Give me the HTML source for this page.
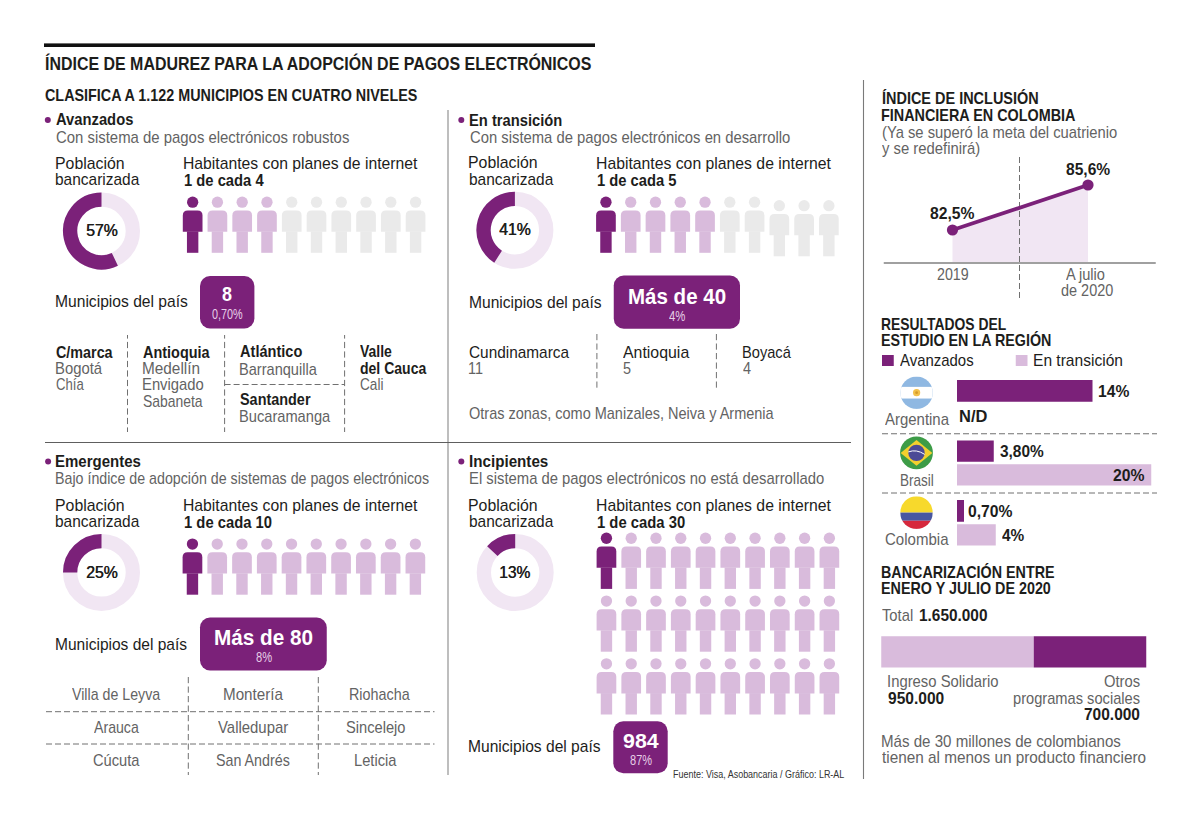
<!DOCTYPE html><html lang="es"><head><meta charset="utf-8"><title>Índice de madurez para la adopción de pagos electrónicos</title><style>
*{margin:0;padding:0;box-sizing:border-box}
html,body{width:1200px;height:822px;background:#fff;overflow:hidden}
body{position:relative;font-family:"Liberation Sans",Arial,sans-serif}
svg.bg{position:absolute;left:0;top:0}
.t{position:absolute;white-space:nowrap;line-height:1;transform-origin:0 0}
</style></head><body>
<svg class="bg" width="1200" height="822" viewBox="0 0 1200 822"><rect x="44.00" y="43.40" width="551.00" height="3.60" rx="0" fill="#111"/><line x1="448" y1="110" x2="448" y2="775" stroke="#b3b3b3" stroke-width="1.7"/><line x1="863.5" y1="80" x2="863.5" y2="779" stroke="#7a7a7a" stroke-width="1.1"/><line x1="45" y1="442.5" x2="851" y2="442.5" stroke="#5e5e5e" stroke-width="1"/><circle cx="47.8" cy="120" r="3" fill="#7b2179"/><circle cx="101.5" cy="231" r="31.35" fill="none" stroke="#f1e6f3" stroke-width="14.30"/><path d="M101.5 199.65A31.35 31.35 0 1 0 114.85 259.37" fill="none" stroke="#7b2179" stroke-width="14.30"/><circle cx="192.65" cy="202.15" r="5.65" fill="#7b2179"/><path d="M182.80 231.70V215.40Q182.80 210.40 187.80 210.40H197.50Q202.50 210.40 202.50 215.40V231.70Z" fill="#7b2179"/><rect x="186.95" y="231.40" width="11.4" height="21.40" fill="#7b2179"/><circle cx="217.42" cy="202.15" r="5.65" fill="#d9bbdc"/><path d="M207.57 231.70V215.40Q207.57 210.40 212.57 210.40H222.27Q227.27 210.40 227.27 215.40V231.70Z" fill="#d9bbdc"/><rect x="211.72" y="231.40" width="11.4" height="21.40" fill="#d9bbdc"/><circle cx="242.19" cy="202.15" r="5.65" fill="#d9bbdc"/><path d="M232.34 231.70V215.40Q232.34 210.40 237.34 210.40H247.04Q252.04 210.40 252.04 215.40V231.70Z" fill="#d9bbdc"/><rect x="236.49" y="231.40" width="11.4" height="21.40" fill="#d9bbdc"/><circle cx="266.96" cy="202.15" r="5.65" fill="#d9bbdc"/><path d="M257.11 231.70V215.40Q257.11 210.40 262.11 210.40H271.81Q276.81 210.40 276.81 215.40V231.70Z" fill="#d9bbdc"/><rect x="261.26" y="231.40" width="11.4" height="21.40" fill="#d9bbdc"/><circle cx="291.73" cy="202.15" r="5.65" fill="#eaeaea"/><path d="M281.88 231.70V215.40Q281.88 210.40 286.88 210.40H296.58Q301.58 210.40 301.58 215.40V231.70Z" fill="#eaeaea"/><rect x="286.03" y="231.40" width="11.4" height="21.40" fill="#eaeaea"/><circle cx="316.50" cy="202.15" r="5.65" fill="#eaeaea"/><path d="M306.65 231.70V215.40Q306.65 210.40 311.65 210.40H321.35Q326.35 210.40 326.35 215.40V231.70Z" fill="#eaeaea"/><rect x="310.80" y="231.40" width="11.4" height="21.40" fill="#eaeaea"/><circle cx="341.27" cy="202.15" r="5.65" fill="#eaeaea"/><path d="M331.42 231.70V215.40Q331.42 210.40 336.42 210.40H346.12Q351.12 210.40 351.12 215.40V231.70Z" fill="#eaeaea"/><rect x="335.57" y="231.40" width="11.4" height="21.40" fill="#eaeaea"/><circle cx="366.04" cy="202.15" r="5.65" fill="#eaeaea"/><path d="M356.19 231.70V215.40Q356.19 210.40 361.19 210.40H370.89Q375.89 210.40 375.89 215.40V231.70Z" fill="#eaeaea"/><rect x="360.34" y="231.40" width="11.4" height="21.40" fill="#eaeaea"/><circle cx="390.81" cy="202.15" r="5.65" fill="#eaeaea"/><path d="M380.96 231.70V215.40Q380.96 210.40 385.96 210.40H395.66Q400.66 210.40 400.66 215.40V231.70Z" fill="#eaeaea"/><rect x="385.11" y="231.40" width="11.4" height="21.40" fill="#eaeaea"/><circle cx="415.58" cy="202.15" r="5.65" fill="#eaeaea"/><path d="M405.73 231.70V215.40Q405.73 210.40 410.73 210.40H420.43Q425.43 210.40 425.43 215.40V231.70Z" fill="#eaeaea"/><rect x="409.88" y="231.40" width="11.4" height="21.40" fill="#eaeaea"/><rect x="200.00" y="276.00" width="54.40" height="52.40" rx="10" fill="#7b2179"/><line x1="127.5" y1="335" x2="127.5" y2="432" stroke="#707070" stroke-width="1" stroke-dasharray="6.2 3.3" stroke-dashoffset="2.6"/><line x1="224.6" y1="335" x2="224.6" y2="432" stroke="#707070" stroke-width="1" stroke-dasharray="6.2 3.3" stroke-dashoffset="2.6"/><line x1="344.6" y1="335" x2="344.6" y2="432" stroke="#707070" stroke-width="1" stroke-dasharray="6.2 3.3" stroke-dashoffset="2.6"/><line x1="224.6" y1="384.5" x2="344.6" y2="384.5" stroke="#707070" stroke-width="1" stroke-dasharray="6 3"/><circle cx="461.3" cy="120" r="3" fill="#7b2179"/><circle cx="514.9" cy="230.2" r="31.35" fill="none" stroke="#f1e6f3" stroke-width="14.30"/><path d="M514.9 198.85A31.35 31.35 0 0 0 498.10 256.67" fill="none" stroke="#7b2179" stroke-width="14.30"/><circle cx="605.95" cy="202.15" r="5.65" fill="#7b2179"/><path d="M596.10 231.70V215.40Q596.10 210.40 601.10 210.40H610.80Q615.80 210.40 615.80 215.40V231.70Z" fill="#7b2179"/><rect x="600.25" y="231.40" width="11.4" height="21.40" fill="#7b2179"/><circle cx="630.72" cy="202.15" r="5.65" fill="#d9bbdc"/><path d="M620.87 231.70V215.40Q620.87 210.40 625.87 210.40H635.57Q640.57 210.40 640.57 215.40V231.70Z" fill="#d9bbdc"/><rect x="625.02" y="231.40" width="11.4" height="21.40" fill="#d9bbdc"/><circle cx="655.49" cy="202.15" r="5.65" fill="#d9bbdc"/><path d="M645.64 231.70V215.40Q645.64 210.40 650.64 210.40H660.34Q665.34 210.40 665.34 215.40V231.70Z" fill="#d9bbdc"/><rect x="649.79" y="231.40" width="11.4" height="21.40" fill="#d9bbdc"/><circle cx="680.26" cy="202.15" r="5.65" fill="#d9bbdc"/><path d="M670.41 231.70V215.40Q670.41 210.40 675.41 210.40H685.11Q690.11 210.40 690.11 215.40V231.70Z" fill="#d9bbdc"/><rect x="674.56" y="231.40" width="11.4" height="21.40" fill="#d9bbdc"/><circle cx="705.03" cy="202.15" r="5.65" fill="#d9bbdc"/><path d="M695.18 231.70V215.40Q695.18 210.40 700.18 210.40H709.88Q714.88 210.40 714.88 215.40V231.70Z" fill="#d9bbdc"/><rect x="699.33" y="231.40" width="11.4" height="21.40" fill="#d9bbdc"/><circle cx="729.80" cy="202.15" r="5.65" fill="#eaeaea"/><path d="M719.95 231.70V215.40Q719.95 210.40 724.95 210.40H734.65Q739.65 210.40 739.65 215.40V231.70Z" fill="#eaeaea"/><rect x="724.10" y="231.40" width="11.4" height="21.40" fill="#eaeaea"/><circle cx="754.57" cy="202.15" r="5.65" fill="#eaeaea"/><path d="M744.72 231.70V215.40Q744.72 210.40 749.72 210.40H759.42Q764.42 210.40 764.42 215.40V231.70Z" fill="#eaeaea"/><rect x="748.87" y="231.40" width="11.4" height="21.40" fill="#eaeaea"/><circle cx="779.34" cy="205.65" r="5.65" fill="#eaeaea"/><path d="M769.49 235.20V218.90Q769.49 213.90 774.49 213.90H784.19Q789.19 213.90 789.19 218.90V235.20Z" fill="#eaeaea"/><rect x="773.64" y="234.90" width="11.4" height="21.40" fill="#eaeaea"/><circle cx="804.11" cy="205.65" r="5.65" fill="#eaeaea"/><path d="M794.26 235.20V218.90Q794.26 213.90 799.26 213.90H808.96Q813.96 213.90 813.96 218.90V235.20Z" fill="#eaeaea"/><rect x="798.41" y="234.90" width="11.4" height="21.40" fill="#eaeaea"/><circle cx="828.88" cy="205.65" r="5.65" fill="#eaeaea"/><path d="M819.03 235.20V218.90Q819.03 213.90 824.03 213.90H833.73Q838.73 213.90 838.73 218.90V235.20Z" fill="#eaeaea"/><rect x="823.18" y="234.90" width="11.4" height="21.40" fill="#eaeaea"/><rect x="613.75" y="275.50" width="126.25" height="53.25" rx="10" fill="#7b2179"/><line x1="596.9" y1="334" x2="596.9" y2="390" stroke="#707070" stroke-width="1" stroke-dasharray="6.2 3.3" stroke-dashoffset="0"/><line x1="716.4" y1="334" x2="716.4" y2="390" stroke="#707070" stroke-width="1" stroke-dasharray="6.2 3.3" stroke-dashoffset="0"/><circle cx="48.1" cy="461.6" r="3" fill="#7b2179"/><circle cx="101.5" cy="572.4" r="31.35" fill="none" stroke="#f1e6f3" stroke-width="14.30"/><path d="M101.5 541.05A31.35 31.35 0 0 0 70.15 572.40" fill="none" stroke="#7b2179" stroke-width="14.30"/><circle cx="192.45" cy="544.05" r="5.65" fill="#7b2179"/><path d="M182.60 573.60V557.30Q182.60 552.30 187.60 552.30H197.30Q202.30 552.30 202.30 557.30V573.60Z" fill="#7b2179"/><rect x="186.75" y="573.30" width="11.4" height="21.40" fill="#7b2179"/><circle cx="217.22" cy="544.05" r="5.65" fill="#d9bbdc"/><path d="M207.37 573.60V557.30Q207.37 552.30 212.37 552.30H222.07Q227.07 552.30 227.07 557.30V573.60Z" fill="#d9bbdc"/><rect x="211.52" y="573.30" width="11.4" height="21.40" fill="#d9bbdc"/><circle cx="241.99" cy="544.05" r="5.65" fill="#d9bbdc"/><path d="M232.14 573.60V557.30Q232.14 552.30 237.14 552.30H246.84Q251.84 552.30 251.84 557.30V573.60Z" fill="#d9bbdc"/><rect x="236.29" y="573.30" width="11.4" height="21.40" fill="#d9bbdc"/><circle cx="266.76" cy="544.05" r="5.65" fill="#d9bbdc"/><path d="M256.91 573.60V557.30Q256.91 552.30 261.91 552.30H271.61Q276.61 552.30 276.61 557.30V573.60Z" fill="#d9bbdc"/><rect x="261.06" y="573.30" width="11.4" height="21.40" fill="#d9bbdc"/><circle cx="291.53" cy="544.05" r="5.65" fill="#d9bbdc"/><path d="M281.68 573.60V557.30Q281.68 552.30 286.68 552.30H296.38Q301.38 552.30 301.38 557.30V573.60Z" fill="#d9bbdc"/><rect x="285.83" y="573.30" width="11.4" height="21.40" fill="#d9bbdc"/><circle cx="316.30" cy="544.05" r="5.65" fill="#d9bbdc"/><path d="M306.45 573.60V557.30Q306.45 552.30 311.45 552.30H321.15Q326.15 552.30 326.15 557.30V573.60Z" fill="#d9bbdc"/><rect x="310.60" y="573.30" width="11.4" height="21.40" fill="#d9bbdc"/><circle cx="341.07" cy="544.05" r="5.65" fill="#d9bbdc"/><path d="M331.22 573.60V557.30Q331.22 552.30 336.22 552.30H345.92Q350.92 552.30 350.92 557.30V573.60Z" fill="#d9bbdc"/><rect x="335.37" y="573.30" width="11.4" height="21.40" fill="#d9bbdc"/><circle cx="365.84" cy="544.05" r="5.65" fill="#d9bbdc"/><path d="M355.99 573.60V557.30Q355.99 552.30 360.99 552.30H370.69Q375.69 552.30 375.69 557.30V573.60Z" fill="#d9bbdc"/><rect x="360.14" y="573.30" width="11.4" height="21.40" fill="#d9bbdc"/><circle cx="390.61" cy="544.05" r="5.65" fill="#d9bbdc"/><path d="M380.76 573.60V557.30Q380.76 552.30 385.76 552.30H395.46Q400.46 552.30 400.46 557.30V573.60Z" fill="#d9bbdc"/><rect x="384.91" y="573.30" width="11.4" height="21.40" fill="#d9bbdc"/><circle cx="415.38" cy="544.05" r="5.65" fill="#d9bbdc"/><path d="M405.53 573.60V557.30Q405.53 552.30 410.53 552.30H420.23Q425.23 552.30 425.23 557.30V573.60Z" fill="#d9bbdc"/><rect x="409.68" y="573.30" width="11.4" height="21.40" fill="#d9bbdc"/><rect x="200.00" y="617.50" width="126.75" height="53.00" rx="10" fill="#7b2179"/><line x1="188.3" y1="677" x2="188.3" y2="775" stroke="#707070" stroke-width="1" stroke-dasharray="6.2 3.3" stroke-dashoffset="0"/><line x1="318.3" y1="677" x2="318.3" y2="775" stroke="#707070" stroke-width="1" stroke-dasharray="6.2 3.3" stroke-dashoffset="0"/><line x1="46" y1="711.7" x2="434.5" y2="711.7" stroke="#707070" stroke-width="1" stroke-dasharray="6 3"/><line x1="46" y1="744" x2="434.5" y2="744" stroke="#707070" stroke-width="1" stroke-dasharray="6 3"/><circle cx="461.3" cy="461.6" r="3" fill="#7b2179"/><circle cx="515.2" cy="572.5" r="31.35" fill="none" stroke="#f1e6f3" stroke-width="14.30"/><path d="M515.2 541.15A31.35 31.35 0 0 0 492.35 551.04" fill="none" stroke="#7b2179" stroke-width="14.30"/><circle cx="606.45" cy="538.25" r="5.65" fill="#7b2179"/><path d="M596.60 567.80V551.50Q596.60 546.50 601.60 546.50H611.30Q616.30 546.50 616.30 551.50V567.80Z" fill="#7b2179"/><rect x="600.75" y="567.50" width="11.4" height="21.40" fill="#7b2179"/><circle cx="631.22" cy="538.25" r="5.65" fill="#d9bbdc"/><path d="M621.37 567.80V551.50Q621.37 546.50 626.37 546.50H636.07Q641.07 546.50 641.07 551.50V567.80Z" fill="#d9bbdc"/><rect x="625.52" y="567.50" width="11.4" height="21.40" fill="#d9bbdc"/><circle cx="655.99" cy="538.25" r="5.65" fill="#d9bbdc"/><path d="M646.14 567.80V551.50Q646.14 546.50 651.14 546.50H660.84Q665.84 546.50 665.84 551.50V567.80Z" fill="#d9bbdc"/><rect x="650.29" y="567.50" width="11.4" height="21.40" fill="#d9bbdc"/><circle cx="680.76" cy="538.25" r="5.65" fill="#d9bbdc"/><path d="M670.91 567.80V551.50Q670.91 546.50 675.91 546.50H685.61Q690.61 546.50 690.61 551.50V567.80Z" fill="#d9bbdc"/><rect x="675.06" y="567.50" width="11.4" height="21.40" fill="#d9bbdc"/><circle cx="705.53" cy="538.25" r="5.65" fill="#d9bbdc"/><path d="M695.68 567.80V551.50Q695.68 546.50 700.68 546.50H710.38Q715.38 546.50 715.38 551.50V567.80Z" fill="#d9bbdc"/><rect x="699.83" y="567.50" width="11.4" height="21.40" fill="#d9bbdc"/><circle cx="730.30" cy="538.25" r="5.65" fill="#d9bbdc"/><path d="M720.45 567.80V551.50Q720.45 546.50 725.45 546.50H735.15Q740.15 546.50 740.15 551.50V567.80Z" fill="#d9bbdc"/><rect x="724.60" y="567.50" width="11.4" height="21.40" fill="#d9bbdc"/><circle cx="755.07" cy="538.25" r="5.65" fill="#d9bbdc"/><path d="M745.22 567.80V551.50Q745.22 546.50 750.22 546.50H759.92Q764.92 546.50 764.92 551.50V567.80Z" fill="#d9bbdc"/><rect x="749.37" y="567.50" width="11.4" height="21.40" fill="#d9bbdc"/><circle cx="779.84" cy="538.25" r="5.65" fill="#d9bbdc"/><path d="M769.99 567.80V551.50Q769.99 546.50 774.99 546.50H784.69Q789.69 546.50 789.69 551.50V567.80Z" fill="#d9bbdc"/><rect x="774.14" y="567.50" width="11.4" height="21.40" fill="#d9bbdc"/><circle cx="804.61" cy="538.25" r="5.65" fill="#d9bbdc"/><path d="M794.76 567.80V551.50Q794.76 546.50 799.76 546.50H809.46Q814.46 546.50 814.46 551.50V567.80Z" fill="#d9bbdc"/><rect x="798.91" y="567.50" width="11.4" height="21.40" fill="#d9bbdc"/><circle cx="829.38" cy="538.25" r="5.65" fill="#d9bbdc"/><path d="M819.53 567.80V551.50Q819.53 546.50 824.53 546.50H834.23Q839.23 546.50 839.23 551.50V567.80Z" fill="#d9bbdc"/><rect x="823.68" y="567.50" width="11.4" height="21.40" fill="#d9bbdc"/><circle cx="606.45" cy="601.05" r="5.65" fill="#d9bbdc"/><path d="M596.60 630.60V614.30Q596.60 609.30 601.60 609.30H611.30Q616.30 609.30 616.30 614.30V630.60Z" fill="#d9bbdc"/><rect x="600.75" y="630.30" width="11.4" height="21.40" fill="#d9bbdc"/><circle cx="631.22" cy="601.05" r="5.65" fill="#d9bbdc"/><path d="M621.37 630.60V614.30Q621.37 609.30 626.37 609.30H636.07Q641.07 609.30 641.07 614.30V630.60Z" fill="#d9bbdc"/><rect x="625.52" y="630.30" width="11.4" height="21.40" fill="#d9bbdc"/><circle cx="655.99" cy="601.05" r="5.65" fill="#d9bbdc"/><path d="M646.14 630.60V614.30Q646.14 609.30 651.14 609.30H660.84Q665.84 609.30 665.84 614.30V630.60Z" fill="#d9bbdc"/><rect x="650.29" y="630.30" width="11.4" height="21.40" fill="#d9bbdc"/><circle cx="680.76" cy="601.05" r="5.65" fill="#d9bbdc"/><path d="M670.91 630.60V614.30Q670.91 609.30 675.91 609.30H685.61Q690.61 609.30 690.61 614.30V630.60Z" fill="#d9bbdc"/><rect x="675.06" y="630.30" width="11.4" height="21.40" fill="#d9bbdc"/><circle cx="705.53" cy="601.05" r="5.65" fill="#d9bbdc"/><path d="M695.68 630.60V614.30Q695.68 609.30 700.68 609.30H710.38Q715.38 609.30 715.38 614.30V630.60Z" fill="#d9bbdc"/><rect x="699.83" y="630.30" width="11.4" height="21.40" fill="#d9bbdc"/><circle cx="730.30" cy="601.05" r="5.65" fill="#d9bbdc"/><path d="M720.45 630.60V614.30Q720.45 609.30 725.45 609.30H735.15Q740.15 609.30 740.15 614.30V630.60Z" fill="#d9bbdc"/><rect x="724.60" y="630.30" width="11.4" height="21.40" fill="#d9bbdc"/><circle cx="755.07" cy="601.05" r="5.65" fill="#d9bbdc"/><path d="M745.22 630.60V614.30Q745.22 609.30 750.22 609.30H759.92Q764.92 609.30 764.92 614.30V630.60Z" fill="#d9bbdc"/><rect x="749.37" y="630.30" width="11.4" height="21.40" fill="#d9bbdc"/><circle cx="779.84" cy="601.05" r="5.65" fill="#d9bbdc"/><path d="M769.99 630.60V614.30Q769.99 609.30 774.99 609.30H784.69Q789.69 609.30 789.69 614.30V630.60Z" fill="#d9bbdc"/><rect x="774.14" y="630.30" width="11.4" height="21.40" fill="#d9bbdc"/><circle cx="804.61" cy="601.05" r="5.65" fill="#d9bbdc"/><path d="M794.76 630.60V614.30Q794.76 609.30 799.76 609.30H809.46Q814.46 609.30 814.46 614.30V630.60Z" fill="#d9bbdc"/><rect x="798.91" y="630.30" width="11.4" height="21.40" fill="#d9bbdc"/><circle cx="829.38" cy="601.05" r="5.65" fill="#d9bbdc"/><path d="M819.53 630.60V614.30Q819.53 609.30 824.53 609.30H834.23Q839.23 609.30 839.23 614.30V630.60Z" fill="#d9bbdc"/><rect x="823.68" y="630.30" width="11.4" height="21.40" fill="#d9bbdc"/><circle cx="606.45" cy="663.85" r="5.65" fill="#d9bbdc"/><path d="M596.60 693.40V677.10Q596.60 672.10 601.60 672.10H611.30Q616.30 672.10 616.30 677.10V693.40Z" fill="#d9bbdc"/><rect x="600.75" y="693.10" width="11.4" height="21.40" fill="#d9bbdc"/><circle cx="631.22" cy="663.85" r="5.65" fill="#d9bbdc"/><path d="M621.37 693.40V677.10Q621.37 672.10 626.37 672.10H636.07Q641.07 672.10 641.07 677.10V693.40Z" fill="#d9bbdc"/><rect x="625.52" y="693.10" width="11.4" height="21.40" fill="#d9bbdc"/><circle cx="655.99" cy="663.85" r="5.65" fill="#d9bbdc"/><path d="M646.14 693.40V677.10Q646.14 672.10 651.14 672.10H660.84Q665.84 672.10 665.84 677.10V693.40Z" fill="#d9bbdc"/><rect x="650.29" y="693.10" width="11.4" height="21.40" fill="#d9bbdc"/><circle cx="680.76" cy="663.85" r="5.65" fill="#d9bbdc"/><path d="M670.91 693.40V677.10Q670.91 672.10 675.91 672.10H685.61Q690.61 672.10 690.61 677.10V693.40Z" fill="#d9bbdc"/><rect x="675.06" y="693.10" width="11.4" height="21.40" fill="#d9bbdc"/><circle cx="705.53" cy="663.85" r="5.65" fill="#d9bbdc"/><path d="M695.68 693.40V677.10Q695.68 672.10 700.68 672.10H710.38Q715.38 672.10 715.38 677.10V693.40Z" fill="#d9bbdc"/><rect x="699.83" y="693.10" width="11.4" height="21.40" fill="#d9bbdc"/><circle cx="730.30" cy="663.85" r="5.65" fill="#d9bbdc"/><path d="M720.45 693.40V677.10Q720.45 672.10 725.45 672.10H735.15Q740.15 672.10 740.15 677.10V693.40Z" fill="#d9bbdc"/><rect x="724.60" y="693.10" width="11.4" height="21.40" fill="#d9bbdc"/><circle cx="755.07" cy="663.85" r="5.65" fill="#d9bbdc"/><path d="M745.22 693.40V677.10Q745.22 672.10 750.22 672.10H759.92Q764.92 672.10 764.92 677.10V693.40Z" fill="#d9bbdc"/><rect x="749.37" y="693.10" width="11.4" height="21.40" fill="#d9bbdc"/><circle cx="779.84" cy="663.85" r="5.65" fill="#d9bbdc"/><path d="M769.99 693.40V677.10Q769.99 672.10 774.99 672.10H784.69Q789.69 672.10 789.69 677.10V693.40Z" fill="#d9bbdc"/><rect x="774.14" y="693.10" width="11.4" height="21.40" fill="#d9bbdc"/><circle cx="804.61" cy="663.85" r="5.65" fill="#d9bbdc"/><path d="M794.76 693.40V677.10Q794.76 672.10 799.76 672.10H809.46Q814.46 672.10 814.46 677.10V693.40Z" fill="#d9bbdc"/><rect x="798.91" y="693.10" width="11.4" height="21.40" fill="#d9bbdc"/><circle cx="829.38" cy="663.85" r="5.65" fill="#d9bbdc"/><path d="M819.53 693.40V677.10Q819.53 672.10 824.53 672.10H834.23Q839.23 672.10 839.23 677.10V693.40Z" fill="#d9bbdc"/><rect x="823.68" y="693.10" width="11.4" height="21.40" fill="#d9bbdc"/><rect x="613.30" y="721.20" width="54.40" height="52.00" rx="10" fill="#7b2179"/><polygon points="952.5,230 1088,185 1088,263 952.5,263" fill="#f1e6f3"/><line x1="883.75" y1="263" x2="1155.75" y2="263" stroke="#a0a0a0" stroke-width="1.8"/><line x1="1019.5" y1="157" x2="1019.5" y2="301" stroke="#707070" stroke-width="1" stroke-dasharray="6 3" stroke-dashoffset="0"/><line x1="952.5" y1="230" x2="1088" y2="185" stroke="#7b2179" stroke-width="3.8"/><circle cx="952.5" cy="230" r="5.6" fill="#7b2179"/><circle cx="1088" cy="185" r="5.6" fill="#7b2179"/><rect x="882.00" y="355.00" width="11.75" height="11.00" rx="0" fill="#7b2179"/><rect x="1015.75" y="355.00" width="11.75" height="11.00" rx="0" fill="#d9bbdc"/><clipPath id="cfa"><circle cx="916.6" cy="392.7" r="16.2"/></clipPath><g clip-path="url(#cfa)"><rect x="900.4" y="376.5" width="32.4" height="32.4" fill="#8fb8e2"/><rect x="900.4" y="386.868" width="32.4" height="11.664" fill="#fff"/></g><circle cx="916.6" cy="392.7" r="3.6" fill="#f2c04a"/><circle cx="916.6" cy="392.7" r="1.4" fill="#d49a2a"/><circle cx="916.5" cy="452.9" r="16.4" fill="#3d9c47"/><polygon points="900.6,452.9 916.5,440.108 932.4,452.9 916.5,465.69199999999995" fill="#f3d02e"/><circle cx="916.5" cy="452.9" r="8.2" fill="#4b4a96"/><path d="M908.3 451.9Q916.5 448.9 924.7 454.4" stroke="#fff" stroke-width="1" fill="none"/><clipPath id="cfc"><circle cx="916.5" cy="512.6" r="16.3"/></clipPath><g clip-path="url(#cfc)"><rect x="900.2" y="496.3" width="32.6" height="16.3" fill="#f7d92c"/><rect x="900.2" y="512.6" width="32.6" height="8.15" fill="#4857a0"/><rect x="900.2" y="520.75" width="32.6" height="8.15" fill="#d6283c"/></g><rect x="957.00" y="380.00" width="135.50" height="21.75" rx="0" fill="#7b2179"/><line x1="882" y1="433.75" x2="1157" y2="433.75" stroke="#707070" stroke-width="1" stroke-dasharray="6 3"/><rect x="957.00" y="440.50" width="36.75" height="21.25" rx="0" fill="#7b2179"/><rect x="957.00" y="464.25" width="194.25" height="21.25" rx="0" fill="#d9bbdc"/><line x1="882" y1="493" x2="1157" y2="493" stroke="#707070" stroke-width="1" stroke-dasharray="6 3"/><rect x="957.00" y="500.00" width="7.00" height="21.75" rx="0" fill="#7b2179"/><rect x="957.00" y="524.25" width="38.75" height="21.25" rx="0" fill="#d9bbdc"/><rect x="881.25" y="636.25" width="152.50" height="31.25" rx="0" fill="#d9bbdc"/><rect x="1033.75" y="636.25" width="112.50" height="31.25" rx="0" fill="#7b2179"/></svg>
<div class="t" style="left:44.50px;top:55.00px;font-size:18.2px;font-weight:700;color:#1d1d1b;transform:scaleX(0.8773)">ÍNDICE DE MADUREZ PARA LA ADOPCIÓN DE PAGOS ELECTRÓNICOS</div>
<div class="t" style="left:44.50px;top:87.50px;font-size:15.7px;font-weight:700;color:#1d1d1b;transform:scaleX(0.9153)">CLASIFICA A 1.122 MUNICIPIOS EN CUATRO NIVELES</div>
<div class="t" style="left:56.00px;top:112.00px;font-size:15.7px;font-weight:700;color:#1d1d1b;transform:scaleX(0.9405)">Avanzados</div>
<div class="t" style="left:56.00px;top:130.00px;font-size:15.7px;font-weight:400;color:#636363;transform:scaleX(0.9503)">Con sistema de pagos electrónicos robustos</div>
<div class="t" style="left:54.99px;top:156.00px;font-size:15.7px;font-weight:400;color:#1d1d1b;transform:scaleX(1.0108)">Población</div>
<div class="t" style="left:55.01px;top:172.20px;font-size:15.7px;font-weight:400;color:#1d1d1b;transform:scaleX(0.9865)">bancarizada</div>
<div class="t" style="left:182.50px;top:156.30px;font-size:15.7px;font-weight:400;color:#1d1d1b;transform:scaleX(1.0027)">Habitantes con planes de internet</div>
<div class="t" style="left:183.50px;top:172.70px;font-size:15.7px;font-weight:700;color:#1d1d1b;transform:scaleX(0.9415)">1 de cada 4</div>
<div class="t" style="left:85.90px;top:221.60px;font-size:16.3px;font-weight:400;color:#1d1d1b;transform:scaleX(0.9717);text-shadow:0.45px 0 0 #1d1d1b">57%</div>
<div class="t" style="left:55.00px;top:294.00px;font-size:15.7px;font-weight:400;color:#1d1d1b;transform:scaleX(0.9957)">Municipios del país</div>
<div class="t" style="left:221.94px;top:285.00px;font-size:19.5px;font-weight:700;color:#fff;transform:scaleX(0.9200)">8</div>
<div class="t" style="left:211.60px;top:306.60px;font-size:14px;font-weight:400;color:#e6cfe7;transform:scaleX(0.7746)">0,70%</div>
<div class="t" style="left:55.75px;top:344.50px;font-size:15.7px;font-weight:700;color:#1d1d1b;transform:scaleX(0.9141)">C/marca</div>
<div class="t" style="left:54.80px;top:360.75px;font-size:15.7px;font-weight:400;color:#636363;transform:scaleX(0.9460)">Bogotá</div>
<div class="t" style="left:55.75px;top:377.40px;font-size:15.7px;font-weight:400;color:#636363;transform:scaleX(0.8380)">Chía</div>
<div class="t" style="left:142.90px;top:344.50px;font-size:15.7px;font-weight:700;color:#1d1d1b;transform:scaleX(0.9208)">Antioquia</div>
<div class="t" style="left:141.92px;top:360.75px;font-size:15.7px;font-weight:400;color:#636363;transform:scaleX(0.9788)">Medellín</div>
<div class="t" style="left:141.96px;top:377.40px;font-size:15.7px;font-weight:400;color:#636363;transform:scaleX(0.9445)">Envigado</div>
<div class="t" style="left:142.90px;top:394.00px;font-size:15.7px;font-weight:400;color:#636363;transform:scaleX(0.8874)">Sabaneta</div>
<div class="t" style="left:239.70px;top:344.40px;font-size:15.7px;font-weight:700;color:#1d1d1b;transform:scaleX(0.9290)">Atlántico</div>
<div class="t" style="left:238.77px;top:361.50px;font-size:15.7px;font-weight:400;color:#636363;transform:scaleX(0.9290)">Barranquilla</div>
<div class="t" style="left:239.70px;top:392.10px;font-size:15.7px;font-weight:700;color:#1d1d1b;transform:scaleX(0.9190)">Santander</div>
<div class="t" style="left:238.77px;top:409.00px;font-size:15.7px;font-weight:400;color:#636363;transform:scaleX(0.9335)">Bucaramanga</div>
<div class="t" style="left:359.50px;top:344.40px;font-size:15.7px;font-weight:700;color:#1d1d1b;transform:scaleX(0.8907)">Valle</div>
<div class="t" style="left:359.50px;top:361.00px;font-size:15.7px;font-weight:700;color:#1d1d1b;transform:scaleX(0.8940)">del Cauca</div>
<div class="t" style="left:359.50px;top:377.40px;font-size:15.7px;font-weight:400;color:#636363;transform:scaleX(0.8667)">Cali</div>
<div class="t" style="left:468.56px;top:112.80px;font-size:15.7px;font-weight:700;color:#1d1d1b;transform:scaleX(0.9388)">En transición</div>
<div class="t" style="left:469.50px;top:129.50px;font-size:15.7px;font-weight:400;color:#636363;transform:scaleX(0.9441)">Con sistema de pagos electrónicos en desarrollo</div>
<div class="t" style="left:468.49px;top:155.30px;font-size:15.7px;font-weight:400;color:#1d1d1b;transform:scaleX(1.0108)">Población</div>
<div class="t" style="left:468.51px;top:172.00px;font-size:15.7px;font-weight:400;color:#1d1d1b;transform:scaleX(0.9865)">bancarizada</div>
<div class="t" style="left:595.50px;top:156.00px;font-size:15.7px;font-weight:400;color:#1d1d1b;transform:scaleX(1.0048)">Habitantes con planes de internet</div>
<div class="t" style="left:596.50px;top:172.50px;font-size:15.7px;font-weight:700;color:#1d1d1b;transform:scaleX(0.9403)">1 de cada 5</div>
<div class="t" style="left:499.30px;top:221.30px;font-size:16.3px;font-weight:400;color:#1d1d1b;transform:scaleX(0.9717);text-shadow:0.45px 0 0 #1d1d1b">41%</div>
<div class="t" style="left:468.51px;top:294.50px;font-size:15.7px;font-weight:400;color:#1d1d1b;transform:scaleX(0.9938)">Municipios del país</div>
<div class="t" style="left:627.86px;top:285.60px;font-size:21.8px;font-weight:700;color:#fff;transform:scaleX(0.9411)">Más de 40</div>
<div class="t" style="left:669.00px;top:308.60px;font-size:14px;font-weight:400;color:#e6cfe7;transform:scaleX(0.8086)">4%</div>
<div class="t" style="left:469.40px;top:344.80px;font-size:15.7px;font-weight:400;color:#1d1d1b;transform:scaleX(0.9805)">Cundinamarca</div>
<div class="t" style="left:468.48px;top:360.90px;font-size:15.7px;font-weight:400;color:#636363;transform:scaleX(0.9200)">11</div>
<div class="t" style="left:623.00px;top:344.80px;font-size:15.7px;font-weight:400;color:#1d1d1b;transform:scaleX(1.0123)">Antioquia</div>
<div class="t" style="left:623.00px;top:360.90px;font-size:15.7px;font-weight:400;color:#636363;transform:scaleX(0.9200)">5</div>
<div class="t" style="left:741.77px;top:344.50px;font-size:15.7px;font-weight:400;color:#1d1d1b;transform:scaleX(0.9322)">Boyacá</div>
<div class="t" style="left:742.80px;top:360.90px;font-size:15.7px;font-weight:400;color:#636363;transform:scaleX(0.9200)">4</div>
<div class="t" style="left:469.40px;top:406.30px;font-size:15.7px;font-weight:400;color:#636363;transform:scaleX(0.9244)">Otras zonas, como Manizales, Neiva y Armenia</div>
<div class="t" style="left:55.04px;top:454.40px;font-size:15.7px;font-weight:700;color:#1d1d1b;transform:scaleX(0.9564)">Emergentes</div>
<div class="t" style="left:55.09px;top:471.40px;font-size:15.7px;font-weight:400;color:#636363;transform:scaleX(0.9068)">Bajo índice de adopción de sistemas de pagos electrónicos</div>
<div class="t" style="left:54.99px;top:497.60px;font-size:15.7px;font-weight:400;color:#1d1d1b;transform:scaleX(1.0108)">Población</div>
<div class="t" style="left:55.01px;top:514.00px;font-size:15.7px;font-weight:400;color:#1d1d1b;transform:scaleX(0.9865)">bancarizada</div>
<div class="t" style="left:182.50px;top:497.60px;font-size:15.7px;font-weight:400;color:#1d1d1b;transform:scaleX(1.0027)">Habitantes con planes de internet</div>
<div class="t" style="left:183.50px;top:514.80px;font-size:15.7px;font-weight:700;color:#1d1d1b;transform:scaleX(0.9435)">1 de cada 10</div>
<div class="t" style="left:85.90px;top:563.50px;font-size:16.3px;font-weight:400;color:#1d1d1b;transform:scaleX(0.9717);text-shadow:0.45px 0 0 #1d1d1b">25%</div>
<div class="t" style="left:55.26px;top:636.50px;font-size:15.7px;font-weight:400;color:#1d1d1b;transform:scaleX(0.9901)">Municipios del país</div>
<div class="t" style="left:213.55px;top:627.00px;font-size:21.8px;font-weight:700;color:#fff;transform:scaleX(0.9508)">Más de 80</div>
<div class="t" style="left:255.52px;top:650.30px;font-size:14px;font-weight:400;color:#e6cfe7;transform:scaleX(0.7960)">8%</div>
<div class="t" style="left:72.30px;top:687.00px;font-size:15.7px;font-weight:400;color:#636363;transform:scaleX(0.9052)">Villa de Leyva</div>
<div class="t" style="left:222.98px;top:687.00px;font-size:15.7px;font-weight:400;color:#636363;transform:scaleX(0.9692)">Montería</div>
<div class="t" style="left:349.08px;top:687.00px;font-size:15.7px;font-weight:400;color:#636363;transform:scaleX(0.9152)">Riohacha</div>
<div class="t" style="left:94.30px;top:720.30px;font-size:15.7px;font-weight:400;color:#636363;transform:scaleX(0.9004)">Arauca</div>
<div class="t" style="left:218.30px;top:720.30px;font-size:15.7px;font-weight:400;color:#636363;transform:scaleX(0.9509)">Valledupar</div>
<div class="t" style="left:346.05px;top:720.30px;font-size:15.7px;font-weight:400;color:#636363;transform:scaleX(0.9337)">Sincelejo</div>
<div class="t" style="left:93.35px;top:752.70px;font-size:15.7px;font-weight:400;color:#636363;transform:scaleX(0.9344)">Cúcuta</div>
<div class="t" style="left:215.95px;top:752.70px;font-size:15.7px;font-weight:400;color:#636363;transform:scaleX(0.9095)">San Andrés</div>
<div class="t" style="left:354.12px;top:752.70px;font-size:15.7px;font-weight:400;color:#636363;transform:scaleX(0.9345)">Leticia</div>
<div class="t" style="left:468.53px;top:454.40px;font-size:15.7px;font-weight:700;color:#1d1d1b;transform:scaleX(0.9677)">Incipientes</div>
<div class="t" style="left:468.55px;top:471.40px;font-size:15.7px;font-weight:400;color:#636363;transform:scaleX(0.9450)">El sistema de pagos electrónicos no está desarrollado</div>
<div class="t" style="left:468.49px;top:497.60px;font-size:15.7px;font-weight:400;color:#1d1d1b;transform:scaleX(1.0108)">Población</div>
<div class="t" style="left:468.51px;top:514.00px;font-size:15.7px;font-weight:400;color:#1d1d1b;transform:scaleX(0.9865)">bancarizada</div>
<div class="t" style="left:595.50px;top:497.60px;font-size:15.7px;font-weight:400;color:#1d1d1b;transform:scaleX(1.0048)">Habitantes con planes de internet</div>
<div class="t" style="left:596.50px;top:514.60px;font-size:15.7px;font-weight:700;color:#1d1d1b;transform:scaleX(0.9456)">1 de cada 30</div>
<div class="t" style="left:499.34px;top:563.50px;font-size:16.3px;font-weight:400;color:#1d1d1b;transform:scaleX(0.9579);text-shadow:0.45px 0 0 #1d1d1b">13%</div>
<div class="t" style="left:468.41px;top:739.00px;font-size:15.7px;font-weight:400;color:#1d1d1b;transform:scaleX(0.9938)">Municipios del país</div>
<div class="t" style="left:622.60px;top:732.10px;font-size:19.5px;font-weight:700;color:#fff;transform:scaleX(1.0951)">984</div>
<div class="t" style="left:629.65px;top:753.30px;font-size:14px;font-weight:400;color:#e6cfe7;transform:scaleX(0.7870)">87%</div>
<div class="t" style="left:672.80px;top:769.50px;font-size:10px;font-weight:400;color:#333;transform:scaleX(0.8968)">Fuente: Visa, Asobancaria / Gráfico: LR-AL</div>
<div class="t" style="left:882.30px;top:91.20px;font-size:15.7px;font-weight:700;color:#1d1d1b;transform:scaleX(0.9220)">ÍNDICE DE INCLUSIÓN</div>
<div class="t" style="left:881.38px;top:107.70px;font-size:15.7px;font-weight:700;color:#1d1d1b;transform:scaleX(0.9171)">FINANCIERA EN COLOMBIA</div>
<div class="t" style="left:882.00px;top:124.50px;font-size:15.7px;font-weight:400;color:#636363;transform:scaleX(0.9411)">(Ya se superó la meta del cuatrienio</div>
<div class="t" style="left:882.00px;top:140.75px;font-size:15.7px;font-weight:400;color:#636363;transform:scaleX(0.9466)">y se redefinirá)</div>
<div class="t" style="left:930.25px;top:206.00px;font-size:16px;font-weight:700;color:#1d1d1b;transform:scaleX(0.9803)">82,5%</div>
<div class="t" style="left:1065.50px;top:161.60px;font-size:16px;font-weight:700;color:#1d1d1b;transform:scaleX(0.9747)">85,6%</div>
<div class="t" style="left:937.00px;top:267.00px;font-size:15.7px;font-weight:400;color:#636363;transform:scaleX(0.9071)">2019</div>
<div class="t" style="left:1066.25px;top:267.00px;font-size:15.7px;font-weight:400;color:#636363;transform:scaleX(0.9302)">A julio</div>
<div class="t" style="left:1061.25px;top:283.25px;font-size:15.7px;font-weight:400;color:#636363;transform:scaleX(0.9213)">de 2020</div>
<div class="t" style="left:881.41px;top:317.00px;font-size:15.7px;font-weight:700;color:#1d1d1b;transform:scaleX(0.8851)">RESULTADOS DEL</div>
<div class="t" style="left:881.39px;top:332.75px;font-size:15.7px;font-weight:700;color:#1d1d1b;transform:scaleX(0.9121)">ESTUDIO EN LA REGIÓN</div>
<div class="t" style="left:900.00px;top:352.75px;font-size:15.7px;font-weight:400;color:#1d1d1b;transform:scaleX(0.9517)">Avanzados</div>
<div class="t" style="left:1032.76px;top:352.75px;font-size:15.7px;font-weight:400;color:#1d1d1b;transform:scaleX(0.9920)">En transición</div>
<div class="t" style="left:1097.52px;top:383.60px;font-size:16px;font-weight:700;color:#1d1d1b;transform:scaleX(0.9774)">14%</div>
<div class="t" style="left:958.97px;top:409.30px;font-size:16px;font-weight:700;color:#1d1d1b;transform:scaleX(1.0288)">N/D</div>
<div class="t" style="left:884.50px;top:412.00px;font-size:15.7px;font-weight:400;color:#636363;transform:scaleX(0.9528)">Argentina</div>
<div class="t" style="left:999.50px;top:444.30px;font-size:16px;font-weight:700;color:#1d1d1b;transform:scaleX(0.9637)">3,80%</div>
<div class="t" style="left:1113.00px;top:467.80px;font-size:16px;font-weight:700;color:#1d1d1b;transform:scaleX(0.9828)">20%</div>
<div class="t" style="left:899.64px;top:472.50px;font-size:15.7px;font-weight:400;color:#636363;transform:scaleX(0.8611)">Brasil</div>
<div class="t" style="left:968.25px;top:503.50px;font-size:16px;font-weight:700;color:#1d1d1b;transform:scaleX(0.9803)">0,70%</div>
<div class="t" style="left:1001.75px;top:527.80px;font-size:16px;font-weight:700;color:#1d1d1b;transform:scaleX(0.9608)">4%</div>
<div class="t" style="left:884.50px;top:532.00px;font-size:15.7px;font-weight:400;color:#636363;transform:scaleX(0.9581)">Colombia</div>
<div class="t" style="left:881.39px;top:565.00px;font-size:15.7px;font-weight:700;color:#1d1d1b;transform:scaleX(0.9134)">BANCARIZACIÓN ENTRE</div>
<div class="t" style="left:881.39px;top:581.25px;font-size:15.7px;font-weight:700;color:#1d1d1b;transform:scaleX(0.9131)">ENERO Y JULIO DE 2020</div>
<div class="t" style="left:882.30px;top:608.25px;font-size:15.7px;font-weight:400;color:#636363;transform:scaleX(0.9403)">Total</div>
<div class="t" style="left:918.75px;top:608.25px;font-size:15.7px;font-weight:700;color:#1d1d1b;transform:scaleX(0.9812)">1.650.000</div>
<div class="t" style="left:887.05px;top:674.00px;font-size:15.7px;font-weight:400;color:#636363;transform:scaleX(0.9466)">Ingreso Solidario</div>
<div class="t" style="left:888.00px;top:690.75px;font-size:15.7px;font-weight:700;color:#1d1d1b;transform:scaleX(0.9915)">950.000</div>
<div class="t" style="left:1103.75px;top:674.00px;font-size:15.7px;font-weight:400;color:#636363;transform:scaleX(0.9413)">Otros</div>
<div class="t" style="left:1012.82px;top:690.75px;font-size:15.7px;font-weight:400;color:#636363;transform:scaleX(0.9340)">programas sociales</div>
<div class="t" style="left:1083.75px;top:707.00px;font-size:15.7px;font-weight:700;color:#1d1d1b;transform:scaleX(0.9872)">700.000</div>
<div class="t" style="left:880.74px;top:733.90px;font-size:15.7px;font-weight:400;color:#636363;transform:scaleX(0.9620)">Más de 30 millones de colombianos</div>
<div class="t" style="left:881.70px;top:750.30px;font-size:15.7px;font-weight:400;color:#636363;transform:scaleX(0.9766)">tienen al menos un producto financiero</div>
</body></html>
